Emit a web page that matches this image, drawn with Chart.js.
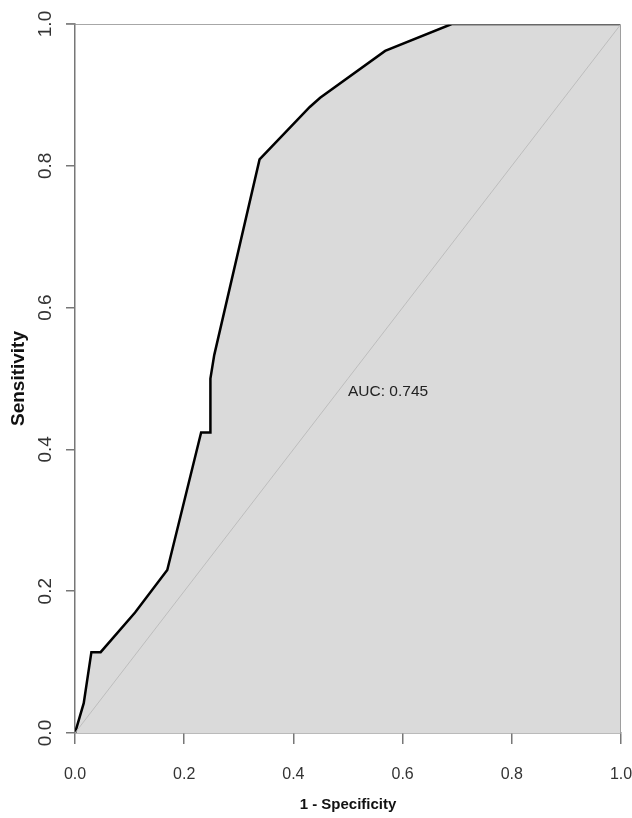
<!DOCTYPE html>
<html>
<head>
<meta charset="utf-8">
<script src="https://cdn.jsdelivr.net/npm/chart.js@4/dist/chart.umd.min.js"></script>
<style>
  body { margin: 0; background: #fff; }
  #wrap { width: 632px; height: 818px; }
</style>
</head>
<body>
<div id="wrap"><canvas id="rocChart" width="632" height="818"></canvas></div>
<script>
// ROC curve points
const fpr = [0.0, 0.016, 0.030, 0.047, 0.11, 0.169, 0.231, 0.248, 0.248, 0.255, 0.338, 0.43, 0.449, 0.568, 0.69, 1.0];
const tpr = [0.0, 0.042, 0.114, 0.114, 0.17, 0.230, 0.424, 0.424, 0.50, 0.533, 0.809, 0.883, 0.896, 0.962, 1.0, 1.0];
const axisTicks = [0.0, 0.2, 0.4, 0.6, 0.8, 1.0];
const aucText = "AUC: 0.745";
const aucPos = [0.5, 0.482];

const rocPoints = fpr.map((x, i) => ({ x: x, y: tpr[i] }));
const diagonal = [{ x: 0, y: 0 }, { x: 1, y: 1 }];
const frame = [{ x: 0, y: 1 }, { x: 1, y: 1 }, { x: 1, y: 0 }];

const overlay = {
    id: "overlay",
    afterDraw(chart) {
        const ctx = chart.ctx;
        const xs = chart.scales.x;
        const ys = chart.scales.y;
        ctx.save();

        // y tick labels, rotated like R
        ctx.fillStyle = "#333";
        ctx.font = "19px 'Liberation Sans', Arial, sans-serif";
        ctx.textAlign = "center";
        ctx.textBaseline = "middle";
        axisTicks.forEach((v) => {
            ctx.save();
            ctx.translate(46, ys.getPixelForValue(v));
            ctx.rotate(-Math.PI / 2);
            ctx.fillText(v.toFixed(1), 0, 0);
            ctx.restore();
        });

        // axis titles
        ctx.fillStyle = "#111";
        ctx.font = "bold 19px 'Liberation Sans', Arial, sans-serif";
        ctx.save();
        ctx.translate(19, (chart.chartArea.top + chart.chartArea.bottom) / 2);
        ctx.rotate(-Math.PI / 2);
        ctx.fillText("Sensitivity", 0, 0);
        ctx.restore();

        ctx.font = "bold 15px 'Liberation Sans', Arial, sans-serif";
        ctx.fillText("1 - Specificity", (chart.chartArea.left + chart.chartArea.right) / 2, 805);

        // AUC label
        ctx.fillStyle = "#222";
        ctx.font = "15.5px 'Liberation Sans', Arial, sans-serif";
        ctx.textAlign = "left";
        ctx.fillText(aucText, xs.getPixelForValue(aucPos[0]), ys.getPixelForValue(aucPos[1]));

        // short stub of the top line left of the axis
        ctx.strokeStyle = "#8a8a8a";
        ctx.lineWidth = 1.5;
        ctx.beginPath();
        ctx.moveTo(chart.chartArea.left - 9, ys.getPixelForValue(1));
        ctx.lineTo(chart.chartArea.left, ys.getPixelForValue(1));
        ctx.stroke();
        ctx.restore();
    },
};

new Chart(document.getElementById("rocChart"), {
    type: "scatter",
    data: {
        datasets: [
            {
                label: "ROC",
                data: rocPoints,
                showLine: true,
                fill: "origin",
                backgroundColor: "#dadada",
                borderColor: "#000",
                borderWidth: 2.5,
                pointRadius: 0,
                tension: 0,
                order: 2,
            },
            {
                label: "frame",
                data: frame,
                showLine: true,
                borderColor: "#8a8a8a",
                borderWidth: 1.5,
                pointRadius: 0,
                order: 1,
            },
            {
                label: "chance",
                data: diagonal,
                showLine: true,
                borderColor: "#bdbdbd",
                borderWidth: 1,
                pointRadius: 0,
                order: 0,
            },
        ],
    },
    options: {
        responsive: false,
        animation: false,
        layout: {
            padding: { top: 24, right: 11, left: 0, bottom: 0 },
        },
        plugins: {
            legend: { display: false },
            tooltip: { enabled: false },
        },
        scales: {
            x: {
                type: "linear",
                min: 0,
                max: 1,
                afterFit: (scale) => {
                    scale.height = 85;
                    scale.paddingLeft = 0;
                    scale.paddingRight = 0;
                },
                afterBuildTicks: (scale) => { scale.ticks = axisTicks.map((v) => ({ value: v })); },
                border: { display: true, color: "#777", width: 1.5 },
                grid: { drawOnChartArea: false, drawTicks: true, tickLength: 11, color: "#777", lineWidth: 1.5 },
                ticks: {
                    padding: 21,
                    color: "#333",
                    font: { family: "'Liberation Sans', Arial, sans-serif", size: 16 },
                    maxRotation: 0,
                    callback: (v) => Number(v).toFixed(1),
                },
            },
            y: {
                type: "linear",
                min: 0,
                max: 1,
                afterFit: (scale) => {
                    scale.width = 75;
                    scale.paddingTop = 0;
                    scale.paddingBottom = 0;
                },
                afterBuildTicks: (scale) => { scale.ticks = axisTicks.map((v) => ({ value: v })); },
                border: { display: true, color: "#777", width: 1.5 },
                grid: { drawOnChartArea: false, drawTicks: true, tickLength: 9, color: "#777", lineWidth: 1.5 },
                ticks: { color: "rgba(0,0,0,0)" },
            },
        },
    },
    plugins: [overlay],
});
</script>
</body>
</html>
